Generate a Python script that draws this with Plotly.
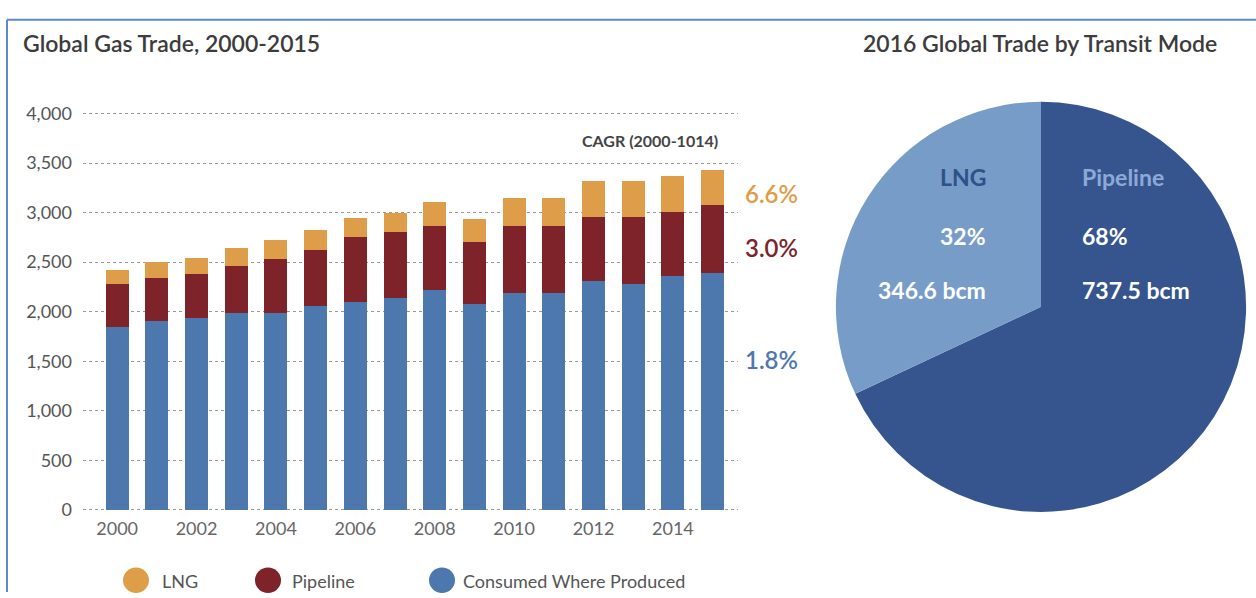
import plotly.graph_objects as go

# ---- data -------------------------------------------------------------
years = list(range(2000, 2016))
consumed = [1850, 1910, 1940, 1985, 1985, 2055, 2100, 2140, 2220, 2080, 2190, 2190, 2310, 2275, 2365, 2395]
pipeline = [425, 435, 440, 475, 550, 570, 650, 660, 645, 625, 675, 675, 650, 685, 645, 680]
lng = [145, 155, 160, 185, 185, 195, 195, 195, 245, 235, 285, 285, 355, 355, 355, 355]

year_ticks = [2000, 2002, 2004, 2006, 2008, 2010, 2012, 2014]
value_ticks = [0, 500, 1000, 1500, 2000, 2500, 3000, 3500, 4000]
value_tick_text = ["0", "500", "1,000", "1,500", "2,000", "2,500", "3,000", "3,500", "4,000"]

cagr_labels = ["6.6%", "3.0%", "1.8%"]

mode_labels = ["Pipeline", "LNG"]
mode_bcm = [737.5, 346.6]

# ---- style ------------------------------------------------------------
W, H = 1256, 598
FONT = "Lato"
C_LNG = "#DE9D48"
C_PIPE = "#7E2329"
C_CONS = "#4D78AE"
C_PIE_PIPE = "#36558F"
C_PIE_LNG = "#779CC8"
TXT = "#4a4a4a"


def px(x):
    return x / W


def py(y):
    return 1 - y / H


fig = go.Figure()

for name, vals, col in [("Consumed Where Produced", consumed, C_CONS),
                        ("Pipeline", pipeline, C_PIPE),
                        ("LNG", lng, C_LNG)]:
    fig.add_trace(go.Bar(x=years, y=vals, name=name, marker=dict(color=col, line=dict(width=0)),
                         width=0.58, showlegend=False, xaxis="x", yaxis="y"))

total_mode = sum(mode_bcm)
fig.add_trace(go.Pie(labels=mode_labels, values=mode_bcm, sort=False, direction="clockwise",
                     rotation=0, marker=dict(colors=[C_PIE_PIPE, C_PIE_LNG], line=dict(width=0)),
                     textinfo="none", hoverinfo="label+value+percent", showlegend=False,
                     domain=dict(x=[px(832), px(1250)], y=[py(516), py(96)])))

fig.update_layout(
    width=W, height=H,
    margin=dict(l=0, r=0, t=0, b=0),
    paper_bgcolor="white", plot_bgcolor="white",
    barmode="stack",
    font=dict(family=FONT, color=TXT),
    xaxis=dict(domain=[px(83), px(738)], range=[1999.14, 2015.64], tickvals=year_ticks,
               showgrid=False, zeroline=False, showline=False, ticks="",
               tickfont=dict(size=18, color="#666666"), ticklabelstandoff=2),
    yaxis=dict(domain=[py(518), py(104)], range=[-40, 4040], tickvals=value_ticks,
               ticktext=value_tick_text, showgrid=True, gridcolor="#9a9a9a", griddash="dot",
               gridwidth=1, zeroline=False, showline=False, ticks="",
               tickfont=dict(size=18, color="#555555"), ticklabelstandoff=10),
)

ann = []
# titles
ann.append(dict(x=px(21), y=py(36), xref="paper", yref="paper", xanchor="left", yanchor="middle",
                text="Global Gas Trade, 2000-2015", showarrow=False,
                font=dict(size=23, color="#3c3c3c", family=FONT, weight=600)))
ann.append(dict(x=px(1040), y=py(36), xref="paper", yref="paper", xanchor="center", yanchor="middle",
                text="2016 Global Trade by Transit Mode", showarrow=False,
                font=dict(size=23, color="#3c3c3c", family=FONT, weight=600)))
# CAGR block
ann.append(dict(x=px(720), y=py(136), xref="paper", yref="paper", xanchor="right", yanchor="middle",
                text="<b>CAGR (2000-1014)</b>", showarrow=False, font=dict(size=16, color="#444444")))
for txt, ypos, col in zip(cagr_labels, [190, 245, 360], [C_LNG, C_PIPE, C_CONS]):
    ann.append(dict(x=px(743), y=py(ypos), xref="paper", yref="paper", xanchor="left", yanchor="middle",
                    text=txt, showarrow=False, font=dict(size=24, color=col, weight=600)))

# pie labels: LNG column right-aligned, Pipeline column left-aligned
pct = [round(v / total_mode * 100) for v in mode_bcm]
pie_text = [
    ("<b>Pipeline</b>", 1080, 173, "#8DAAD6", "left"),
    ("<b>LNG</b>", 988, 173, "#2F5089", "right"),
    (f"<b>{pct[0]}%</b>", 1080, 233, "white", "left"),
    (f"<b>{pct[1]}%</b>", 988, 233, "white", "right"),
    (f"<b>{mode_bcm[0]} bcm</b>", 1080, 289, "white", "left"),
    (f"<b>{mode_bcm[1]} bcm</b>", 988, 289, "white", "right"),
]
for txt, x, y, col, anc in pie_text:
    ann.append(dict(x=px(x), y=py(y), xref="paper", yref="paper", xanchor=anc, yanchor="middle",
                    text=txt, showarrow=False, font=dict(size=23, color=col)))

# legend
shapes = []
for name, col, cx, tx in [("LNG", C_LNG, 136, 160), ("Pipeline", C_PIPE, 268, 290),
                          ("Consumed Where Produced", C_CONS, 442, 461)]:
    shapes.append(dict(type="circle", xref="paper", yref="paper", x0=px(cx - 13), x1=px(cx + 13),
                       y0=py(586 + 13), y1=py(586 - 13), fillcolor=col, line=dict(width=0)))
    ann.append(dict(x=px(tx), y=py(587), xref="paper", yref="paper", xanchor="left", yanchor="middle",
                    text=name, showarrow=False, font=dict(size=18, color="#555555")))

# frame lines on top and left
shapes.append(dict(type="line", xref="paper", yref="paper", x0=px(7), x1=1, y0=py(12), y1=py(12),
                   line=dict(color="#5B8AD0", width=2)))
shapes.append(dict(type="line", xref="paper", yref="paper", x0=px(7), x1=px(7), y0=py(12), y1=0,
                   line=dict(color="#5B8AD0", width=2)))

fig.update_layout(annotations=ann, shapes=shapes)

fig.write_html("out.html")
